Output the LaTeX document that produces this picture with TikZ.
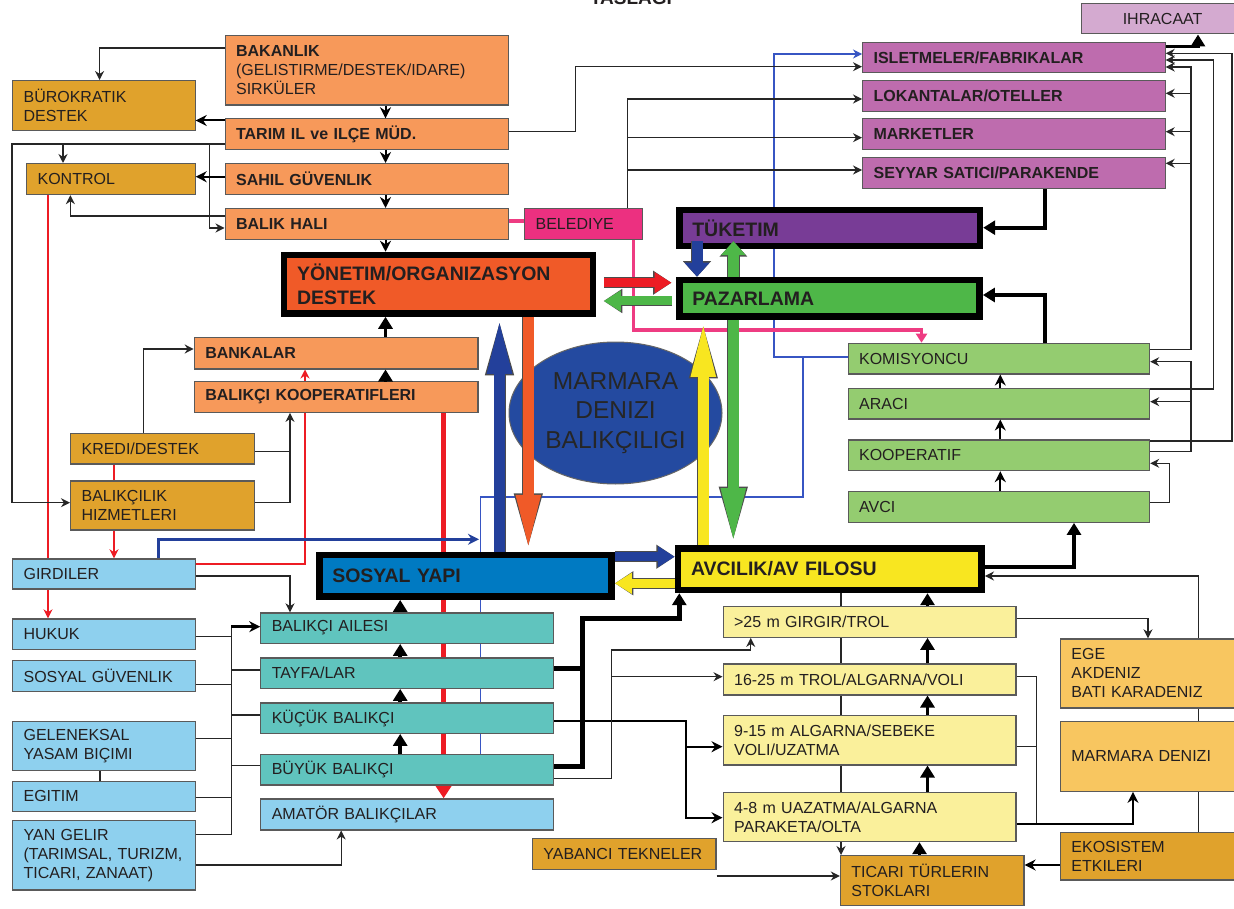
\documentclass[tikz,border=0pt]{standalone}
\usepackage{fontspec}
\setmainfont{Liberation Sans}
\usetikzlibrary{arrows.meta,shapes.geometric,backgrounds}
\definecolor{turuncu}{RGB}{247,153,90}
\definecolor{hardal}{RGB}{224,162,44}
\definecolor{kiremit}{RGB}{240,90,40}
\definecolor{pembe}{RGB}{236,48,128}
\definecolor{pembecizgi}{RGB}{238,60,130}
\definecolor{mor}{RGB}{120,60,150}
\definecolor{yesil}{RGB}{78,183,72}
\definecolor{acikyesil}{RGB}{148,204,112}
\definecolor{eflatun}{RGB}{190,108,174}
\definecolor{lila}{RGB}{212,170,208}
\definecolor{acikmavi}{RGB}{142,208,238}
\definecolor{mavi}{RGB}{0,122,194}
\definecolor{turkuaz}{RGB}{96,196,190}
\definecolor{sari}{RGB}{248,230,32}
\definecolor{aciksari}{RGB}{250,240,155}
\definecolor{portakal}{RGB}{248,198,96}
\definecolor{deniz}{RGB}{36,74,160}
\definecolor{koyumavi}{RGB}{35,64,155}
\definecolor{kirmizi}{RGB}{237,28,36}
\definecolor{incemavi}{RGB}{55,85,195}
\definecolor{yazi}{RGB}{35,31,32}
\definecolor{kenar}{RGB}{90,90,90}
\begin{document}
\begin{tikzpicture}[x=1pt,y=1pt]
\tikzstyle{every node}+=[inner sep=0pt, text=yazi]
\tikzstyle{box}=[draw=kenar, line width=1.2pt, anchor=north west, inner xsep=11pt, align=left, font=\fontsize{16}{19}\selectfont]
\tikzstyle{bbox}=[box, font=\bfseries\fontsize{16}{19}\selectfont]
\tikzstyle{big}=[draw=black, line width=6.5pt, anchor=north west, inner xsep=13pt, align=left, font=\bfseries\fontsize{19.5}{23.5}\selectfont]
\tikzstyle{ln}=[draw=black!85, line width=1.2pt]
\tikzstyle{ar}=[ln, -{Stealth[length=9pt,width=9pt]}]
\tikzstyle{mar}=[draw=black, line width=2pt, -{Stealth[length=11pt,width=11pt]}]
\tikzstyle{thk}=[draw=black, line width=3.5pt, -{Triangle[length=12pt,width=14pt]}]
\tikzstyle{fatv}=[line width=10.5pt, -{Triangle[length=57pt,width=22pt]}, preaction={draw=black!70, line width=12pt, -{Triangle[length=58.5pt,width=25pt]}}]
\tikzstyle{fath}=[line width=9pt, -{Triangle[length=17pt,width=20pt]}, preaction={draw=black!70, line width=10.5pt, -{Triangle[length=18.5pt,width=23pt]}}]
\tikzstyle{fatt}=[line width=11pt, -{Triangle[length=14pt,width=24pt]}, preaction={draw=black!70, line width=12.5pt, -{Triangle[length=15.5pt,width=27pt]}}]
\tikzstyle{kirmiziok}=[draw=kirmizi, line width=1.2pt, -{Stealth[length=9pt,width=9pt]}]
\tikzstyle{maviince}=[draw=incemavi, line width=1.1pt]
\useasboundingbox (0,0) rectangle (1234,-909);
\node[font=\bfseries\fontsize{19}{22}\selectfont, anchor=base] (baslik) at (631,-5) {TASLAGI};
\node[box, fill=turuncu, text width=261pt, minimum height=69.5pt] (bakanlik) at (224.5,-35) {\textbf{BAKANLIK}\\(GELISTIRME/DESTEK/IDARE)\\SIRKÜLER};
\node[box, fill=hardal, text width=160.5pt, minimum height=50pt] (burokratik) at (12,-80) {BÜROKRATIK\\DESTEK};
\node[bbox, fill=turuncu, text width=261pt, minimum height=31pt] (tarim) at (224.5,-118.3) {TARIM IL ve ILÇE MÜD.};
\node[box, fill=hardal, text width=146.5pt, minimum height=31pt] (kontrol) at (26,-163) {KONTROL};
\node[bbox, fill=turuncu, text width=261pt, minimum height=31pt] (sahil) at (224.5,-163) {SAHIL GÜVENLIK};
\node[bbox, fill=turuncu, text width=261pt, minimum height=31pt] (balikhali) at (224.5,-208) {BALIK HALI};
\node[box, fill=pembe, text width=96pt, minimum height=31pt] (belediye) at (524,-208) {BELEDIYE};
\node[big, fill=kiremit, text width=283pt, minimum height=58.5pt] (yonetim) at (280.75,-251.75) {YÖNETIM/ORGANIZASYON\\DESTEK};
\node[bbox, fill=turuncu, text width=261.6pt, minimum height=31.6pt] (bankalar) at (193.7,-336.7) {BANKALAR};
\node[bbox, fill=turuncu, text width=261.6pt, minimum height=30.7pt] (koopler) at (193.7,-381) {BALIKÇI KOOPERATIFLERI};
\node[box, fill=hardal, text width=162pt, minimum height=30.6pt] (kredi) at (70,-432.7) {KREDI/DESTEK};
\node[box, fill=hardal, text width=162pt, minimum height=49pt] (hizmet) at (70,-480.3) {BALIKÇILIK\\HIZMETLERI};
\node[box, fill=acikmavi, text width=160.5pt, minimum height=30pt] (girdiler) at (12,-558.3) {GIRDILER};
\node[box, fill=acikmavi, text width=160.5pt, minimum height=30.7pt] (hukuk) at (12,-618.3) {HUKUK};
\node[box, fill=acikmavi, text width=160.5pt, minimum height=30.7pt] (sosguv) at (12,-660) {SOSYAL~GÜVENLIK};
\node[box, fill=acikmavi, text width=160.5pt, minimum height=49.3pt] (gelenek) at (12,-720.7) {GELENEKSAL\\YASAM~BIÇIMI};
\node[box, fill=acikmavi, text width=160.5pt, minimum height=30.3pt] (egitim) at (12,-780.7) {EGITIM};
\node[box, fill=acikmavi, text width=160.5pt, minimum height=69.3pt] (yangelir) at (12,-820) {YAN~GELIR\\(TARIMSAL,~TURIZM,\\TICARI,~ZANAAT)};
\node[big, fill=mavi, text width=266.4pt, minimum height=41.7pt] (sosyal) at (316,-551.75) {SOSYAL YAPI};
\node[box, fill=turkuaz, text width=270.6pt, minimum height=30.4pt] (aile) at (260.2,-612.3) {BALIKÇI AILESI};
\node[box, fill=turkuaz, text width=270.6pt, minimum height=30.4pt] (tayfa) at (260.2,-657.3) {TAYFA/LAR};
\node[box, fill=turkuaz, text width=270.6pt, minimum height=30.4pt] (kucuk) at (260.2,-702.3) {KÜÇÜK BALIKÇI};
\node[box, fill=turkuaz, text width=270.6pt, minimum height=30.3pt] (buyuk) at (260.2,-754) {BÜYÜK BALIKÇI};
\node[box, fill=acikmavi, text width=270.6pt, minimum height=31pt] (amator) at (260.2,-798.3) {AMATÖR BALIKÇILAR};
\node[box, fill=hardal, text width=161.5pt, minimum height=31pt] (yabanci) at (531.8,-837.5) {YABANCI~TEKNELER};
\node[ellipse, draw=black!60, line width=1pt, fill=deniz, minimum width=213pt, minimum height=142pt, align=center, font=\fontsize{24.5}{29.5}\selectfont, text=black!85] (marmara) at (615.5,-413) {MARMARA\\DENIZI\\BALIKÇILIGI};
\node[box, fill=lila, minimum width=162pt, minimum height=30pt, align=center] (ihracaat) at (1081,-3.3) {IHRACAAT};
\node[bbox, fill=eflatun, text width=280.5pt, minimum height=30.6pt] (isletme) at (862,-41.7) {ISLETMELER/FABRIKALAR};
\node[bbox, fill=eflatun, text width=280.5pt, minimum height=30.7pt] (lokanta) at (862,-80) {LOKANTALAR/OTELLER};
\node[bbox, fill=eflatun, text width=280.5pt, minimum height=31pt] (market) at (862,-118.3) {MARKETLER};
\node[bbox, fill=eflatun, text width=280.5pt, minimum height=31pt] (seyyar) at (862,-156.7) {SEYYAR SATICI/PARAKENDE};
\node[big, fill=mor, text width=274.7pt, minimum height=36pt] (tuketim) at (676,-206.75) {TÜKETIM};
\node[big, fill=yesil, text width=274.4pt, minimum height=36.7pt] (pazarlama) at (676,-276.75) {PAZARLAMA};
\node[box, fill=acikyesil, text width=279.5pt, minimum height=30.6pt] (komis) at (847.5,-342.7) {KOMISYONCU};
\node[box, fill=acikyesil, text width=279.5pt, minimum height=30.6pt] (araci) at (847.5,-387.7) {ARACI};
\node[box, fill=acikyesil, text width=279.5pt, minimum height=30.7pt] (koop) at (847.5,-439.3) {KOOPERATIF};
\node[box, fill=acikyesil, text width=279.5pt, minimum height=31pt] (avci) at (847.5,-490.7) {AVCI};
\node[big, fill=sari, text width=277.7pt, minimum height=41.7pt] (avcilik) at (674.75,-545) {AVCILIK/AV FILOSU};
\node[box, fill=aciksari, text width=270.8pt, minimum height=30.7pt] (b25) at (722.5,-606) {>25 m GIRGIR/TROL};
\node[box, fill=aciksari, text width=270.8pt, minimum height=31pt] (b16) at (722.5,-663.3) {16-25 m TROL/ALGARNA/VOLI};
\node[box, fill=aciksari, text width=270.8pt, minimum height=49.3pt] (b9) at (722.5,-715) {9-15 m ALGARNA/SEBEKE\\VOLI/UZATMA};
\node[box, fill=aciksari, text width=270.8pt, minimum height=49.3pt] (b4) at (722.5,-791.7) {4-8 m UAZATMA/ALGARNA\\PARAKETA/OLTA};
\node[box, fill=portakal, text width=158pt, minimum height=69pt] (ege) at (1059.8,-638.3) {EGE\\AKDENIZ\\BATI~KARADENIZ};
\node[box, fill=portakal, text width=158pt, minimum height=70pt] (marmaradz) at (1059.8,-720.7) {MARMARA~DENIZI};
\node[box, fill=hardal, text width=158pt, minimum height=47.6pt] (ekosistem) at (1059.8,-831.7) {EKOSISTEM\\ETKILERI};
\node[box, fill=hardal, text width=161.6pt, minimum height=50pt] (ticari) at (839.8,-855) {TICARI~TÜRLERIN\\STOKLARI};
\coordinate (mavidugum) at (479,-539.3);
\begin{scope}[on background layer]
\fill[white] (0,0) rectangle (1234,-909);
\draw[kirmiziok] (kontrol.south -| 48,0) -- (hukuk.north -| 48,0);
\draw[kirmiziok, line width=1.5pt] (kredi.south -| 114,0) -- (girdiler.north -| 114,0);
\draw[kirmiziok] (girdiler.east |- 0,-564) -| (bankalar.south -| 305,0);
\draw[draw=kirmizi, line width=4.5pt, -{Triangle[length=13pt,width=16pt]}] (koopler.south -| 443.6,0) -- (amator.north -| 443.6,0);
\draw[maviince] (buyuk.north -| 480.4,0) -- (480.4,-497) -- (803,-497) -- (803,-357);
\draw[maviince, -{Stealth[length=9pt,width=9pt]}] (komis.west |- 0,-357) -- (774,-357) |- (isletme.west |- 0,-54);
\draw[ar] (avcilik.south -| 841,0) -- (ticari.north -| 841,0);
\draw[ar] (ekosistem.north -| 1198.5,0) |- (avcilik.east |- 0,-576);
\end{scope}
\draw[ar] (bakanlik.west |- 0,-48) -| (burokratik.north -| 99.6,0);
\draw[mar] (bakanlik.south -| 385.5,0) -- (tarim.north -| 385.5,0);
\draw[mar] (tarim.south -| 385.5,0) -- (sahil.north -| 385.5,0);
\draw[mar] (sahil.south -| 385.5,0) -- (balikhali.north -| 385.5,0);
\draw[mar] (balikhali.south -| 385.5,0) -- (yonetim.north -| 385.5,0);
\draw[mar] (tarim.west |- 0,-120.5) -- (burokratik.east |- 0,-120.5);
\draw[ar] (tarim.west |- 0,-144) -- (12,-144) |- (hizmet.west |- 0,-502.7);
\draw[ar] (63,-144) -- (kontrol.north -| 63,0);
\draw[ar] (209.6,-144) |- (balikhali.west |- 0,-228);
\draw[mar] (sahil.west |- 0,-176.7) -- (kontrol.east |- 0,-176.7);
\draw[ar] (balikhali.west |- 0,-216) -| (kontrol.south -| 70.4,0);
\draw[draw=pembecizgi, line width=4pt] (balikhali.east |- 0,-220.7) -- (belediye.west |- 0,-220.7);
\draw[ar] (tarim.east |- 0,-131.7) -- (575.3,-131.7) |- (isletme.west |- 0,-66.7);
\draw[ar] (belediye.north -| 627.5,0) |- (lokanta.west |- 0,-99);
\draw[ar] (627.5,-137.7) -- (market.west |- 0,-137.7);
\draw[ar] (627.5,-170) -- (seyyar.west |- 0,-170);
\draw[draw=pembecizgi, line width=3.5pt, -{Triangle[length=9pt,width=11pt]}] (belediye.south -| 633.3,0) |- (921.5,-330) -- (komis.north -| 921.5,0);
\draw[thk] (koopler.north -| 385.5,0) -- (bankalar.south -| 385.5,0);
\draw[thk] (bankalar.north -| 385.5,0) -- (yonetim.south -| 385.5,0);
\draw[ar] (kredi.north -| 143.5,0) |- (bankalar.west |- 0,-349);
\draw[ar] (kredi.east |- 0,-451.7) -| (koopler.south -| 290,0);
\draw[ln] (hizmet.east |- 0,-502.7) -| (290,-451.7);
\draw[ar] (girdiler.east |- 0,-576) -| (aile.north -| 290,0);
\draw[draw=koyumavi, line width=3pt, -{Stealth[length=11pt,width=11pt]}] (girdiler.north -| 158,0) |- (mavidugum);
\draw[fatv, draw=koyumavi] (sosyal.north -| 499.5,0) -- (yonetim.south -| 499.5,0);
\draw[fatv, draw=kiremit] (yonetim.south -| 528.3,0) -- (sosyal.north -| 528.3,0);
\draw[fatv, draw=sari] (avcilik.north -| 703.3,0) -- (pazarlama.south -| 703.3,0);
\draw[fatv, draw=yesil] (pazarlama.south -| 733.3,0) -- (avcilik.north -| 733.3,0);
\draw[fath, draw=kirmizi, shorten <=7.5pt, shorten >=4.5pt] (yonetim.east |- 0,-282.7) -- (pazarlama.west |- 0,-282.7);
\draw[fath, draw=yesil, shorten <=4.5pt, shorten >=7.5pt] (pazarlama.west |- 0,-301) -- (yonetim.east |- 0,-301);
\draw[fatt, draw=koyumavi, shorten <=-8pt] (tuketim.south -| 697,0) -- (pazarlama.north -| 697,0);
\draw[fatt, draw=yesil, shorten >=-8pt] (pazarlama.north -| 733.4,0) -- (tuketim.south -| 733.4,0);
\draw[fath, draw=koyumavi] (sosyal.east |- 0,-556.7) -- (avcilik.west |- 0,-556.7);
\draw[fath, draw=sari] (avcilik.west |- 0,-583.3) -- (sosyal.east |- 0,-583.3);
\draw[thk, line width=4pt] (seyyar.south -| 1044.8,0) |- (tuketim.east |- 0,-227.7);
\draw[thk, line width=4pt] (komis.north -| 1044.8,0) |- (pazarlama.east |- 0,-295);
\draw[thk, line width=4pt] (avcilik.east |- 0,-566.7) -| (avci.south -| 1074,0);
\draw[mar] (avci.north -| 1000.3,0) -- (koop.south -| 1000.3,0);
\draw[mar] (koop.north -| 1000.3,0) -- (araci.south -| 1000.3,0);
\draw[mar] (araci.north -| 1000.3,0) -- (komis.south -| 1000.3,0);
\draw[ar] (avci.east |- 0,-502.7) -| (1169.3,-463.3) -- (koop.east |- 0,-463.3);
\draw[ar] (koop.east |- 0,-451.7) -| (1191,-361.7) -- (komis.east |- 0,-361.7);
\draw[ar] (1191,-401.7) -- (araci.east |- 0,-401.7);
\draw[ar] (komis.east |- 0,-349.3) -| (1191,-67) -- (isletme.east |- 0,-67);
\draw[ar] (1191,-93.3) -- (lokanta.east |- 0,-93.3);
\draw[ar] (1191,-131.7) -- (market.east |- 0,-131.7);
\draw[ar] (1191,-163.3) -- (seyyar.east |- 0,-163.3);
\draw[ar] (araci.east |- 0,-389) -| (1213.3,-60) -- (isletme.east |- 0,-60);
\draw[ar] (koop.east |- 0,-441) -| (1232,-53.3) -- (isletme.east |- 0,-53.3);
\draw[thk, line width=3pt] (isletme.east |- 0,-47) -| (ihracaat.south -| 1198,0);
\draw[thk] (b4.north -| 927.5,0) -- (b9.south -| 927.5,0);
\draw[thk] (b9.north -| 927.5,0) -- (b16.south -| 927.5,0);
\draw[thk] (b16.north -| 927.5,0) -- (b25.south -| 927.5,0);
\draw[thk] (b25.north -| 927.5,0) -- (avcilik.south -| 927.5,0);
\draw[thk] (ticari.north -| 919.5,0) -- (b4.south -| 919.5,0);
\draw[ar] (b25.east |- 0,-618.3) -| (ege.north -| 1148,0);
\draw[ln] (b16.east |- 0,-676.7) -| (1036.7,-824.3);
\draw[ln] (b9.east |- 0,-746.7) -- (1036.7,-746.7);
\draw[mar] (b4.east |- 0,-824.3) -| (marmaradz.south -| 1133,0);
\draw[mar] (ekosistem.west |- 0,-865) -- (ticari.east |- 0,-865);
\draw[ar] (yabanci.east |- 0,-876) -- (ticari.west |- 0,-876);
\draw[thk] (buyuk.north -| 400.2,0) -- (kucuk.south -| 400.2,0);
\draw[thk] (kucuk.north -| 400.2,0) -- (tayfa.south -| 400.2,0);
\draw[thk] (tayfa.north -| 400.2,0) -- (aile.south -| 400.2,0);
\draw[thk] (aile.north -| 400.2,0) -- (sosyal.south -| 400.2,0);
\draw[ln] (hukuk.east |- 0,-636.7) -- (231.3,-636.7);
\draw[ln] (sosguv.east |- 0,-684.3) -- (231.3,-684.3);
\draw[ln] (gelenek.east |- 0,-738.3) -- (231.3,-738.3);
\draw[ln] (egitim.east |- 0,-797.7) -- (231.3,-797.7);
\draw[ln] (yangelir.east |- 0,-834.3) -| (231.3,-626.7);
\draw[mar, line width=3pt] (231.3,-626.7) -- (aile.west |- 0,-626.7);
\draw[ln] (231.3,-670) -- (tayfa.west |- 0,-670);
\draw[ln] (231.3,-715) -- (kucuk.west |- 0,-715);
\draw[ln] (231.3,-765.7) -- (buyuk.west |- 0,-765.7);
\draw[ln] (gelenek.south -| 100,0) -- (egitim.north -| 100,0);
\draw[ar] (yangelir.east |- 0,-865) -| (amator.south -| 341.2,0);
\draw[draw=black, line width=5pt] (tayfa.east |- 0,-668.3) -- (582.7,-668.3);
\draw[thk, line width=5pt] (buyuk.east |- 0,-766) -| (582.7,-618.3) -| (avcilik.south -| 679.3,0);
\draw[mar] (kucuk.east |- 0,-721) -| (685.7,-817.7) -- (b4.west |- 0,-817.7);
\draw[mar] (685.7,-746.7) -- (b9.west |- 0,-746.7);
\draw[ar] (buyuk.east |- 0,-778.3) -| (611.7,-650) -| (b25.south -| 750.7,0);
\draw[ar] (611.7,-676.7) -- (b16.west |- 0,-676.7);
\end{tikzpicture}
\end{document}
